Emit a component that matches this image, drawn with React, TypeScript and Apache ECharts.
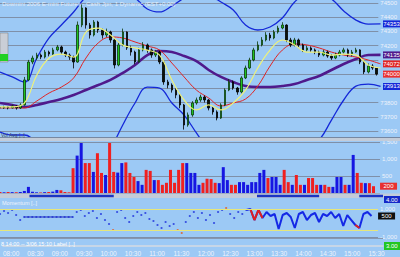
import React, { useEffect, useRef } from "react";
import * as echarts from "echarts";

// ---- data (5-minute bars from 08:00) ----
const closes = [
  73762, 73769, 73762, 73776, 73762, 73783, 73959, 74085, 74113, 74134,
  74120, 74155, 74141, 74170, 74191, 74155, 74134, 74120, 74085, 74345,
  74465, 74345, 74275, 74366, 74310, 74275, 74296, 74240, 74064, 74205,
  74296, 74184, 74155, 74085, 74170, 74205, 74170, 74134, 74155, 74085,
  73945, 73923, 73888, 73853, 73783, 73642, 73713, 73797, 73818, 73839,
  73818, 73762, 73734, 73691, 73783, 73888, 73945, 73902, 73874, 73973,
  74043, 74099, 74170, 74205, 74240, 74275, 74254, 74296, 74324, 74345,
  74240, 74205, 74240, 74205, 74170, 74184, 74170, 74155, 74134, 74155,
  74127, 74113, 74134, 74155, 74170, 74134, 74155, 74170, 74085, 74015,
  74057, 74043, 74000,
];
const highs = [
  73775, 73778, 73775, 73785, 73782, 73795, 73980, 74100, 74130, 74150,
  74145, 74170, 74165, 74185, 74205, 74200, 74165, 74145, 74130, 74370,
  74490, 74470, 74360, 74380, 74375, 74320, 74320, 74305, 74250, 74220,
  74320, 74300, 74200, 74165, 74185, 74225, 74215, 74180, 74170, 74165,
  74090, 73960, 73935, 73900, 73865, 73790, 73730, 73810, 73835, 73855,
  73850, 73825, 73770, 73745, 73795, 73900, 73965, 73955, 73910, 73985,
  74060, 74115, 74185, 74230, 74260, 74295, 74290, 74310, 74340, 74365,
  74350, 74255, 74255, 74250, 74215, 74200, 74195, 74180, 74165, 74170,
  74165, 74140, 74150, 74170, 74185, 74180, 74170, 74185, 74175, 74095,
  74075, 74070, 74050,
];
const lows = [
  73755, 73755, 73752, 73758, 73750, 73755, 73778, 73950, 74070, 74100,
  74105, 74110, 74125, 74135, 74160, 74140, 74120, 74100, 74040, 74080,
  74330, 74320, 74250, 74265, 74290, 74250, 74260, 74220, 74040, 74055,
  74195, 74170, 74130, 74070, 74080, 74160, 74150, 74115, 74120, 74070,
  73925, 73900, 73870, 73830, 73760, 73610, 73630, 73700, 73785, 73805,
  73800, 73745, 73715, 73675, 73685, 73775, 73880, 73890, 73855, 73865,
  73965, 74035, 74090, 74160, 74195, 74230, 74235, 74245, 74285, 74315,
  74225, 74190, 74195, 74190, 74155, 74160, 74155, 74140, 74120, 74125,
  74115, 74100, 74105, 74125, 74145, 74120, 74125, 74150, 74070, 74000,
  74005, 74030, 73990,
];
const firstOpen = 73765;
const volumes = [
  30, 20, 30, 25, 20, 30, 60, 180, 40, 20,
  15, 25, 30, 40, 90, 80, 30, 20, 730, 1100,
  1470, 880, 880, 620, 1170, 590, 530, 1470, 620, 600,
  880, 900, 590, 470, 350, 240, 680, 650, 380, 380,
  240, 300, 680, 300, 680, 880, 880, 590, 590, 240,
  300, 420, 410, 300, 290, 760, 380, 240, 240, 320,
  320, 240, 320, 320, 590, 680, 440, 470, 470, 240,
  680, 320, 240, 530, 240, 240, 440, 440, 240, 240,
  240, 180, 180, 470, 470, 240, 240, 1120, 590, 300,
  290, 290, 200,
];
const momentum = [
  643, 857, 714, 929, 571, 214, 429, 429, 429, 429,
  429, 429, 429, 429, 429, 429, 429, 429, 429, 786,
  929, 500, 714, 857, 357, 643, 214, -71, -500, 786,
  929, 357, 71, 500, 786, 571, 714, 286, 143, -143,
  -357, 71, -214, -71, -500, -714, 71, 500, 786, 357,
  714, 214, 571, 0, 786, 929, 1071, 643, 357, 786,
  643, 929, 1000, 214, 929, 357, 786, 500, 643, -429,
  571, 714, 429, -357, 643, 786, 214, 571, 714, 71,
  643, 500, 786, 357, 643, -214, 571, 214, -143, -357,
  643, 786, 500,
];

// ---- overlay lines (every 15 minutes from 08:00) ----
const yellowMA = [
  73769, 73769, 73797, 73994, 74113, 74141, 74120, 74296, 74324, 74275,
  74205, 74184, 74169, 74134, 73959, 73818, 73748, 73783, 73748, 73797,
  73888, 74043, 74169, 74240, 74205, 74155, 74155, 74134, 74141, 74134,
  74064, 74043,
];
const redMA = [
  73762, 73762, 73762, 73811, 73867, 73909, 73973, 74113, 74219, 74261,
  74254, 74226, 74198, 74169, 74078, 73980, 73888, 73832, 73776, 73797,
  73825, 73916, 74057, 74169, 74212, 74205, 74184, 74155, 74134, 74120,
  74099, 74072,
];
const purpleMA = [
  73797, 73783, 73769, 73783, 73804, 73825, 73853, 73888, 73923, 73959,
  74008, 74064, 74134, 74162, 74155, 74127, 74092, 74029, 73980, 73944,
  73916, 73909, 73909, 73916, 73930, 73959, 73987, 74029, 74071, 74106,
  74134, 74135,
];
const upperBand = [
  74015, 73980, 73944, 74113, 74254, 74345, 74437, 74542, 74591, 74605,
  74577, 74535, 74458, 74437, 74479, 74535, 74577, 74556, 74507, 74451,
  74345, 74310, 74331, 74394, 74507, 74563, 74563, 74528, 74444, 74380,
  74352, 74353,
];
const lowerBand = [
  73593, 73572, 73572, 73502, 73361, 73255, 73185, 73185, 73291, 73466,
  73642, 73797, 73909, 73902, 73797, 73712, 73586, 73466, 73361, 73291,
  73255, 73255, 73291, 73361, 73431, 73480, 73537, 73677, 73818, 73916,
  73930, 73913,
];

const momentumLevels = [1000, -500];
const trendSegments = [[36, 139], [314, 390], [439, 468]];
const momentumRedRanges = [[62, 65], [88, 89]];
const stripTags = ["4.00", "3.00"];
const titleText = "Dowmini 2006 E-mini Futures - Cash Jpn, 1 Dynamic (EST+0:00)";

// ---- layout ----
const W = 400;
const H = 257;
const RIGHT = 17;
const PLOT_W = W - RIGHT;
const SESSION_START = 8 * 60;
const BAR_STEP = 5;
const LINE_STEP = 15;
const X_MAX = 468;
const PRICE_MIN = 73600;
const PRICE_MAX = 74500;
const PRICE_AXIS_TOP = 3;
const PRICE_AXIS_H = 128;
const PRICE_DATA_H = 137;
const perPx = (PRICE_MAX - PRICE_MIN) / PRICE_AXIS_H;
const PRICE_DATA_MAX = PRICE_MAX + PRICE_AXIS_TOP * perPx;
const PRICE_DATA_MIN = PRICE_DATA_MAX - PRICE_DATA_H * perPx;

const BG = "#9cc9f5";
const GRID_LINE = "#7f90a8";
const LABEL = "#eef3fb";
const FONT = "Liberation Sans, Arial, sans-serif";

const barMinutes = closes.map((_, i) => i * BAR_STEP);
const lineMinutes = yellowMA.map((_, i) => i * LINE_STEP);
const opens = closes.map((c, i) => (i === 0 ? firstOpen : closes[i - 1]));
const lastOf = (a: number[]) => a[a.length - 1];
const priceTagValues = [lastOf(upperBand), lastOf(purpleMA), lastOf(redMA), lastOf(closes), lastOf(lowerBand)];

const toPx = (m: number) => (m * PLOT_W) / X_MAX;
const fmtTime = (v: number) => {
  const t = SESSION_START + Math.round(v);
  const h = Math.floor(t / 60);
  const m = t % 60;
  return `${String(h).padStart(2, "0")}:${String(m).padStart(2, "0")}`;
};
const fmtNum = (v: number) => v.toLocaleString("en-US");

function tag(m: number, v: number, color: string, text?: string) {
  return {
    symbol: "rect",
    symbolSize: [17, 7],
    symbolOffset: [391.5 - toPx(m), 0],
    silent: true,
    itemStyle: { color },
    label: {
      show: true,
      position: "inside",
      color: "#ffffff",
      fontSize: 6,
      fontFamily: FONT,
      formatter: text ?? String(v),
    },
    data: [{ coord: [m, v], value: v }],
  };
}

function lineSeries(name: string, values: number[], color: string, width: number, z: number, withTag = true) {
  const last = values.length - 1;
  const s: any = {
    name,
    type: "line",
    xAxisIndex: 1,
    yAxisIndex: 1,
    data: values.map((v, i) => [lineMinutes[i], v]),
    showSymbol: false,
    symbol: "none",
    smooth: 0.4,
    clip: true,
    z,
    lineStyle: { color, width },
  };
  if (withTag) s.markPoint = tag(lineMinutes[last], values[last], color);
  return s;
}

export default function App() {
  const ref = useRef<HTMLDivElement>(null);

  useEffect(() => {
    if (!ref.current) return;
    const chart = echarts.init(ref.current, undefined, { renderer: "svg" });

    const xAxes = [0, 1, 2, 3, 4, 5].map((g) => ({
      type: "value",
      gridIndex: g,
      min: 0,
      max: X_MAX,
      show: g === 4,
      interval: 30,
      axisLine: { show: g === 4, lineStyle: { color: "#d4dae2", width: 1.5 } },
      axisTick: { show: false },
      splitLine: { show: false },
      axisLabel: {
        show: g === 4,
        color: LABEL,
        fontSize: 6.5,
        fontFamily: FONT,
        align: "left",
        margin: 4,
        showMaxLabel: false,
        formatter: (v: number) => fmtTime(v),
      },
    }));

    const lastBar = closes.length - 1;

    const option: any = {
      animation: false,
      backgroundColor: BG,
      textStyle: { fontFamily: FONT },
      grid: [
        { left: 0, right: RIGHT, top: PRICE_AXIS_TOP, height: PRICE_AXIS_H },
        { left: 0, right: RIGHT, top: 0, height: PRICE_DATA_H },
        { left: 0, right: RIGHT, top: 142, height: 51 },
        { left: 0, right: RIGHT, top: 209, height: 28 },
        { left: 0, right: RIGHT, top: 240, height: 6 },
        { left: 0, right: RIGHT, top: 195, height: 2 },
      ],
      xAxis: xAxes,
      yAxis: [
        {
          type: "value",
          gridIndex: 0,
          position: "right",
          min: PRICE_MIN,
          max: PRICE_MAX,
          interval: 100,
          axisLine: { show: false },
          axisTick: { show: false },
          axisLabel: {
            color: LABEL,
            fontSize: 6,
            margin: 2,
            fontFamily: FONT,
            formatter: (v: number) =>
              priceTagValues.some((t) => Math.abs(t - v) < 6 * perPx) ? "" : String(v),
          },
          splitLine: { lineStyle: { color: GRID_LINE, width: 1 } },
        },
        { type: "value", gridIndex: 1, min: PRICE_DATA_MIN, max: PRICE_DATA_MAX, show: false, splitLine: { show: false } },
        {
          type: "value",
          gridIndex: 2,
          position: "right",
          min: 0,
          max: 1500,
          interval: 500,
          axisLine: { show: false },
          axisTick: { show: false },
          axisLabel: { color: LABEL, fontSize: 6, margin: 2, fontFamily: FONT, formatter: (v: number) => (v === 0 ? "" : fmtNum(v)) },
          splitLine: { lineStyle: { color: GRID_LINE, width: 1 } },
        },
        {
          type: "value",
          gridIndex: 3,
          position: "right",
          min: -1000,
          max: 1000,
          interval: 1000,
          axisLine: { show: false },
          axisTick: { show: false },
          axisLabel: { color: LABEL, fontSize: 6, margin: 2, fontFamily: FONT, formatter: (v: number) => (v === 0 ? "" : fmtNum(v)) },
          splitLine: { show: false },
        },
        { type: "value", gridIndex: 4, min: 0, max: 1, show: false, splitLine: { show: false } },
        { type: "value", gridIndex: 5, min: 0, max: 2, show: false, splitLine: { show: false } },
      ],
      series: [
        lineSeries("Upper band", upperBand, "#1428d8", 1.3, 2),
        lineSeries("Lower band", lowerBand, "#1428d8", 1.3, 2),
        lineSeries("Slow MA", purpleMA, "#4f1a8c", 2.6, 2),
        lineSeries("Mid MA", redMA, "#e02424", 1, 2),
        {
          name: "Price",
          type: "candlestick",
          xAxisIndex: 1,
          yAxisIndex: 1,
          barWidth: 2,
          clip: true,
          z: 3,
          data: closes.map((c, i) => [barMinutes[i], opens[i], c, lows[i], highs[i]]),
          itemStyle: {
            color: "#1fc21f",
            color0: "#0a140a",
            borderColor: "#0b3a0b",
            borderColor0: "#000000",
            borderWidth: 0.8,
          },
          markPoint: tag(barMinutes[lastBar], closes[lastBar], "#e83030"),
        },
        lineSeries("Fast MA", yellowMA, "#eef27a", 1.2, 4, false),
        {
          name: "Volume",
          type: "bar",
          xAxisIndex: 2,
          yAxisIndex: 2,
          barWidth: 3,
          data: volumes.map((v, i) => ({
            value: [barMinutes[i], v],
            itemStyle: { color: closes[i] >= opens[i] ? "#1616e2" : "#f02020" },
          })),
          markPoint: tag(barMinutes[lastBar], volumes[lastBar], "#e83030"),
        },
        {
          name: "Momentum dots",
          type: "scatter",
          xAxisIndex: 3,
          yAxisIndex: 3,
          symbolSize: 2.2,
          clip: false,
          data: momentum.slice(0, 62).map((v, i) => ({
            value: [barMinutes[i], v],
            itemStyle: { color: v >= 1050 || v <= -400 ? "#e0602a" : "#2438de" },
          })),
        },
        {
          name: "Momentum flat",
          type: "line",
          xAxisIndex: 3,
          yAxisIndex: 3,
          symbol: "none",
          data: momentum.slice(6, 19).map((v, k) => [barMinutes[k + 6], v]),
          lineStyle: { color: "#2030c0", width: 1 },
        },
        {
          name: "Momentum",
          type: "line",
          xAxisIndex: 3,
          yAxisIndex: 3,
          symbol: "none",
          clip: false,
          data: momentum.slice(61).map((v, k) => [barMinutes[k + 61], v]),
          lineStyle: { color: "#1428e6", width: 2 },
          markLine: {
            silent: true,
            symbol: "none",
            label: { show: false },
            data: [
              ...momentumLevels.map((l) => ({ yAxis: l, lineStyle: { color: "#e6e67a", width: 1, type: "solid" } })),
              { yAxis: -1000, lineStyle: { color: GRID_LINE, width: 1, type: "solid" } },
            ],
          },
          markPoint: tag(barMinutes[lastBar], momentum[lastBar], "#101010"),
        },
        ...momentumRedRanges.map(([a, b]) => ({
          type: "line",
          xAxisIndex: 3,
          yAxisIndex: 3,
          symbol: "none",
          z: 3,
          data: momentum.slice(a, b + 1).map((v, k) => [barMinutes[a + k], v]),
          lineStyle: { color: "#e02020", width: 2 },
        })),
        {
          name: "Trend",
          type: "line",
          xAxisIndex: 5,
          yAxisIndex: 5,
          symbol: "none",
          z: 20,
          data: trendSegments.flatMap(([s, e]) => [[s, 1], [e, 1], [e, "-"]]),
          lineStyle: { color: "#1a34c4", width: 2.5 },
        },
      ],
      graphic: [
        { type: "rect", z: 10, shape: { x: 0, y: 137, width: W, height: 4 }, style: { fill: "#c3ccd9" } },
        { type: "line", z: 11, shape: { x1: 0, y1: 137.5, x2: W, y2: 137.5 }, style: { stroke: "#7788a2", lineWidth: 1 } },
        { type: "rect", z: 10, shape: { x: 0, y: 193.5, width: W, height: 4.5 }, style: { fill: "#c3ccd9" } },
        { type: "line", z: 11, shape: { x1: 0, y1: 238.5, x2: PLOT_W, y2: 238.5 }, style: { stroke: "#8797b0", lineWidth: 1 } },
        { type: "rect", z: 12, shape: { x: 0, y: 33, width: 8, height: 29 }, style: { fill: "#c9ced6", stroke: "#7a7a7a", lineWidth: 0.5 } },
        { type: "rect", z: 13, shape: { x: 0, y: 54, width: 8, height: 7 }, style: { fill: "#22d022" } },
        { type: "text", z: 12, x: 2, y: 1, style: { text: titleText, fill: "#e6edf8", fontSize: 6, fontFamily: FONT } },
        { type: "text", z: 12, x: 1, y: 132, style: { text: "Vol Avg [..]", fill: "#3a4a62", fontSize: 5, fontFamily: FONT } },
        { type: "text", z: 12, x: 2, y: 200, style: { text: "Momentum [..]", fill: "#eef3fb", fontSize: 5.5, fontFamily: FONT } },
        { type: "text", z: 12, x: 1, y: 241, style: { text: "8 14:00 -- 3/06 15:10 Label [..]", fill: "#ffffff", fontSize: 5.5, fontFamily: FONT } },
        { type: "rect", z: 12, shape: { x: 384, y: 196, width: 16, height: 7 }, style: { fill: "#1428c8" } },
        { type: "text", z: 13, x: 386, y: 196.5, style: { text: stripTags[0], fill: "#ffffff", fontSize: 6, fontFamily: FONT } },
        { type: "rect", z: 12, shape: { x: 384, y: 242, width: 16, height: 8 }, style: { fill: "#22c622" } },
        { type: "text", z: 13, x: 386, y: 243, style: { text: stripTags[1], fill: "#ffffff", fontSize: 6, fontFamily: FONT } },
      ],
    };

    chart.setOption(option);
    return () => chart.dispose();
  }, []);

  return <div ref={ref} style={{ position: "fixed", left: 0, top: 0, width: W, height: H }} />;
}
